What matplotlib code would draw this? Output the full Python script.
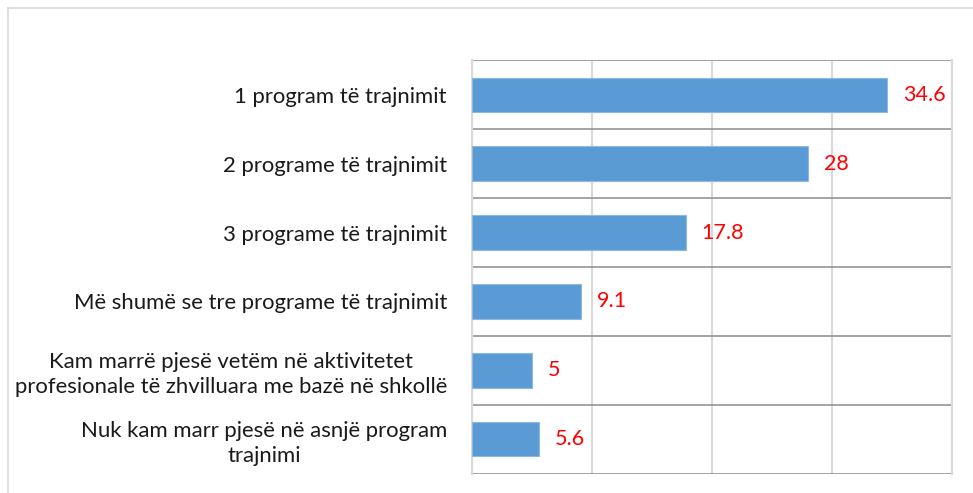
import matplotlib
matplotlib.use("Agg")
import matplotlib.pyplot as plt
import numpy as np
from matplotlib.lines import Line2D

plt.rcParams["font.family"] = ["Lato", "DejaVu Sans"]

categories = [
    "1 program të trajnimit",
    "2 programe të trajnimit",
    "3 programe të trajnimit",
    "Më shumë se tre programe të trajnimit",
    "Kam marrë pjesë vetëm në aktivitetet\nprofesionale të zhvilluara me bazë në shkollë",
    "Nuk kam marr pjesë në asnjë program\ntrajnimi",
]
values = [34.6, 28, 17.8, 9.1, 5, 5.6]
value_labels = ["34.6", "28", "17.8", "9.1", "5", "5.6"]

BAR = "#5B9BD5"
GRID = "#d9d9d9"
SEP = "#8c8c8c"

fig = plt.figure(figsize=(9.73, 4.93), dpi=100)
ax = fig.add_axes([472 / 973, 1 - 473.7 / 493, 480 / 973, 413.4 / 493])

y = np.arange(len(categories))
ax.barh(y, values, height=0.5, color=BAR, edgecolor="#8db8e2", linewidth=0.8,
        zorder=3)
ax.set_xlim(0, 40)
ax.set_ylim(len(categories) - 0.5, -0.5)

# vertical gridlines, light
ax.set_xticks([0, 10, 20, 30, 40])
ax.xaxis.grid(True, color=GRID, linewidth=1.5, zorder=0)
ax.tick_params(axis="x", length=0, labelbottom=False)

# category separators, darker
for b in np.arange(-0.5, len(categories) + 0.5, 1):
    ax.axhline(b, color=SEP, linewidth=1.1, zorder=2)

ax.set_yticks(y)
ax.set_yticklabels(categories, fontsize=15.9, color="#1a1a1a",
                   multialignment="center", linespacing=1.3)
ax.tick_params(axis="y", length=0, pad=18)

for s in ["left", "right"]:
    ax.spines[s].set_color(GRID)
    ax.spines[s].set_linewidth(1.5)
for s in ["top", "bottom"]:
    ax.spines[s].set_visible(False)

for yi, v, lbl in zip(y, values, value_labels):
    ax.annotate(lbl, (v, yi), xytext=(11.5, 0), textcoords="offset points",
                ha="left", va="center", color="#ff0000", fontsize=15.5)

# chart frame (only top and left edges visible in the crop)
fig.add_artist(Line2D([8 / 973, 1], [1 - 8 / 493, 1 - 8 / 493],
                      transform=fig.transFigure, color=GRID, linewidth=1.2))
fig.add_artist(Line2D([8 / 973, 8 / 973], [0, 1 - 8 / 493],
                      transform=fig.transFigure, color=GRID, linewidth=1.2))

fig.savefig("out.png", dpi=100)
